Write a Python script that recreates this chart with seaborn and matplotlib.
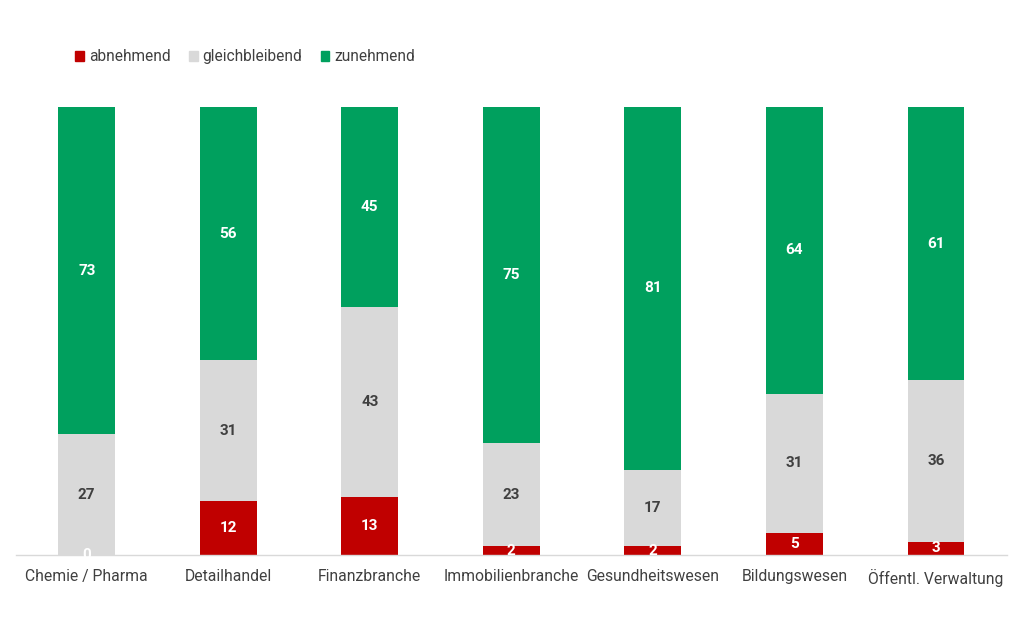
import numpy as np
import pandas as pd
import matplotlib
matplotlib.use("Agg")
import matplotlib.pyplot as plt
import seaborn as sns
from matplotlib.patches import Patch

# data
branchen = ["Chemie / Pharma", "Detailhandel", "Finanzbranche", "Immobilienbranche",
            "Gesundheitswesen", "Bildungswesen", "Öffentl. Verwaltung"]
abnehmend = [0, 12, 13, 2, 2, 5, 3]
gleichbleibend = [27, 31, 43, 23, 17, 31, 36]
zunehmend = [73, 56, 45, 75, 81, 64, 61]

farben = {"abnehmend": "#C00000", "gleichbleibend": "#D9D9D9", "zunehmend": "#00A05E"}

sns.set_theme(style="white")
plt.rcParams["font.family"] = ["Roboto", "DejaVu Sans"]

df = pd.DataFrame({"branche": branchen, "abnehmend": abnehmend,
                   "gleichbleibend": gleichbleibend, "zunehmend": zunehmend})
total = df[["abnehmend", "gleichbleibend", "zunehmend"]].sum(axis=1)
# 100% stacked: normalise each bar
for s in ["abnehmend", "gleichbleibend", "zunehmend"]:
    df[s + "_p"] = df[s] / total
df["cum1"] = df["abnehmend_p"]
df["cum2"] = df["cum1"] + df["gleichbleibend_p"]
df["cum3"] = df["cum2"] + df["zunehmend_p"]

fig = plt.figure(figsize=(10.24, 6.31), dpi=100)
ax = fig.add_axes([0.0156, 0.1204, 0.9674, 0.71])

for col, farbe in [("cum3", "zunehmend"), ("cum2", "gleichbleibend"), ("cum1", "abnehmend")]:
    sns.barplot(data=df, x="branche", y=col, color=farben[farbe], width=0.4,
                saturation=1, linewidth=0, ax=ax)

for i, row in df.iterrows():
    ax.text(i, row["cum1"] / 2, str(row["abnehmend"]), ha="center", va="center",
            color="white", fontsize=11, fontweight="bold")
    ax.text(i, (row["cum1"] + row["cum2"]) / 2, str(row["gleichbleibend"]), ha="center",
            va="center", color="#404040", fontsize=11, fontweight="bold")
    ax.text(i, (row["cum2"] + row["cum3"]) / 2, str(row["zunehmend"]), ha="center",
            va="center", color="white", fontsize=11, fontweight="bold")

ax.set_ylim(0, 1)
ax.set_xlim(-0.5, len(branchen) - 0.5)
ax.set_xlabel("")
ax.set_ylabel("")
ax.set_yticks([])
ax.tick_params(axis="x", length=0, pad=10, labelsize=11.3, labelcolor="#404040")
for side in ["top", "left", "right"]:
    ax.spines[side].set_visible(False)
ax.spines["bottom"].set_color("#D9D9D9")
ax.spines["bottom"].set_linewidth(1)

handles = [Patch(color=farben[k], label=k) for k in ["abnehmend", "gleichbleibend", "zunehmend"]]
fig.legend(handles=handles, loc="center left", bbox_to_anchor=(0.060, 0.91), ncol=3,
           frameon=False, fontsize=11.2, handlelength=0.55, handleheight=0.6,
           handletextpad=0.3, columnspacing=1.2, labelcolor="#404040")

fig.savefig("out.png", dpi=100)
